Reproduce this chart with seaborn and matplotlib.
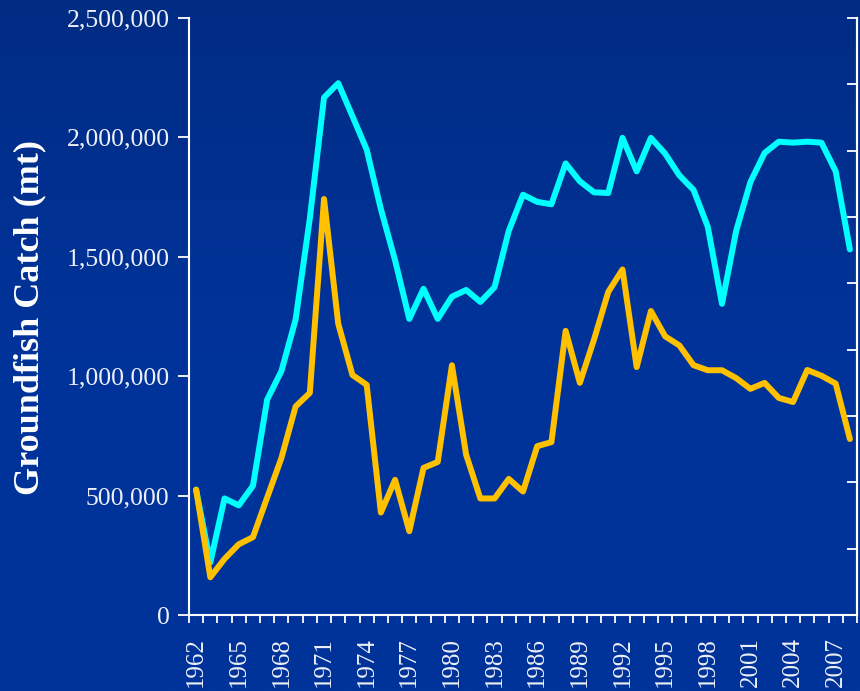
import numpy as np
import pandas as pd
import matplotlib
matplotlib.use('Agg')
import matplotlib.pyplot as plt
from matplotlib.colors import LinearSegmentedColormap
from matplotlib.ticker import FuncFormatter, MultipleLocator
import seaborn as sns

# data (metric tons)
years = list(range(1962, 2009))
catch_cyan = [525000, 220000, 488000, 459000, 541000, 902000, 1021000, 1237000, 1660000, 2167000,
              2227000, 2089000, 1949000, 1700000, 1485000, 1240000, 1366000, 1240000, 1333000, 1361000,
              1311000, 1373000, 1609000, 1760000, 1730000, 1720000, 1891000, 1816000, 1770000, 1767000,
              1998000, 1858000, 1998000, 1932000, 1841000, 1780000, 1626000, 1303000, 1609000, 1813000,
              1935000, 1982000, 1978000, 1982000, 1978000, 1858000, 1531000]
catch_gold = [525000, 158000, 235000, 296000, 326000, 492000, 657000, 873000, 930000, 1742000,
              1220000, 1005000, 964000, 429000, 566000, 351000, 616000, 641000, 1046000, 671000,
              488000, 488000, 570000, 517000, 707000, 724000, 1190000, 972000, 1154000, 1353000,
              1447000, 1038000, 1273000, 1167000, 1129000, 1046000, 1025000, 1025000, 992000, 947000,
              972000, 909000, 892000, 1026000, 1002000, 969000, 737000]
label_years = list(range(1962, 2009, 3))
ytick_values = [0, 500000, 1000000, 1500000, 2000000, 2500000]

df = pd.DataFrame({'year': years, 'cyan': catch_cyan, 'gold': catch_gold})

sns.set_style('white')
plt.rcParams['font.family'] = ['Liberation Serif', 'DejaVu Serif']

fig = plt.figure(figsize=(8.6, 6.91), dpi=100)

# gradient backdrop
bg = fig.add_axes([0, 0, 1, 1], zorder=-10)
cmap = LinearSegmentedColormap.from_list('bg', ['#012C84', '#00339A', '#00349A'])
grad = np.linspace(0, 1, 256).reshape(-1, 1)
bg.imshow(grad, aspect='auto', cmap=cmap, extent=[0, 1, 0, 1], origin='upper')
bg.axis('off')

ax = fig.add_axes([189 / 860, 1 - 615 / 691, (857 - 189) / 860, (615 - 18) / 691])
ax.set_facecolor('none')

sns.lineplot(data=df, x='year', y='cyan', ax=ax, color='#00FFFF', linewidth=4.3,
             solid_joinstyle='round', solid_capstyle='round')
sns.lineplot(data=df, x='year', y='gold', ax=ax, color='#FFC000', linewidth=4.3,
             solid_joinstyle='round', solid_capstyle='round')

ax.set_xlim(1961.5, 2008.5)
ax.set_ylim(0, 2500000)

white = '#FFFFFF'
ax.set_yticks(ytick_values)
ax.yaxis.set_major_formatter(FuncFormatter(lambda v, p: f'{int(v):,}'))
ax.tick_params(axis='y', colors=white, labelcolor='#EEF0F8', labelsize=18.5,
               direction='out', length=8, width=1.3, pad=6, left=True)

ax.set_xticks(label_years)
ax.set_xticklabels([str(y) for y in label_years], rotation=90)
ax.set_xticks([y - 0.5 for y in years] + [2008.5], minor=True)
ax.tick_params(axis='x', which='major', length=0, labelsize=18, labelcolor='#EEF0F8', pad=16)
ax.tick_params(axis='x', which='minor', colors=white, direction='out', length=6, width=1.3,
               bottom=True)

for side in ['left', 'bottom', 'right']:
    ax.spines[side].set_color(white)
    ax.spines[side].set_linewidth(1.5)
ax.spines['top'].set_visible(False)

# secondary axis on the right: ticks only
ax2 = ax.twinx()
ax2.set_ylim(0, 9)
ax2.yaxis.set_major_locator(MultipleLocator(1))
ax2.tick_params(axis='y', direction='in', length=7, width=1.3, colors=white,
                labelright=False, right=True)
for side in ['left', 'bottom', 'top']:
    ax2.spines[side].set_visible(False)
ax2.spines['right'].set_color(white)
ax2.spines['right'].set_linewidth(1.5)

ax.set_xlabel('')
ax.set_ylabel('')
fig.text(30 / 860, 1 - 317 / 691, 'Groundfish Catch (mt)', rotation=90, ha='center', va='center',
         fontsize=26, fontweight='bold', color=white)

fig.savefig('out.png', dpi=100)
plt.close(fig)
